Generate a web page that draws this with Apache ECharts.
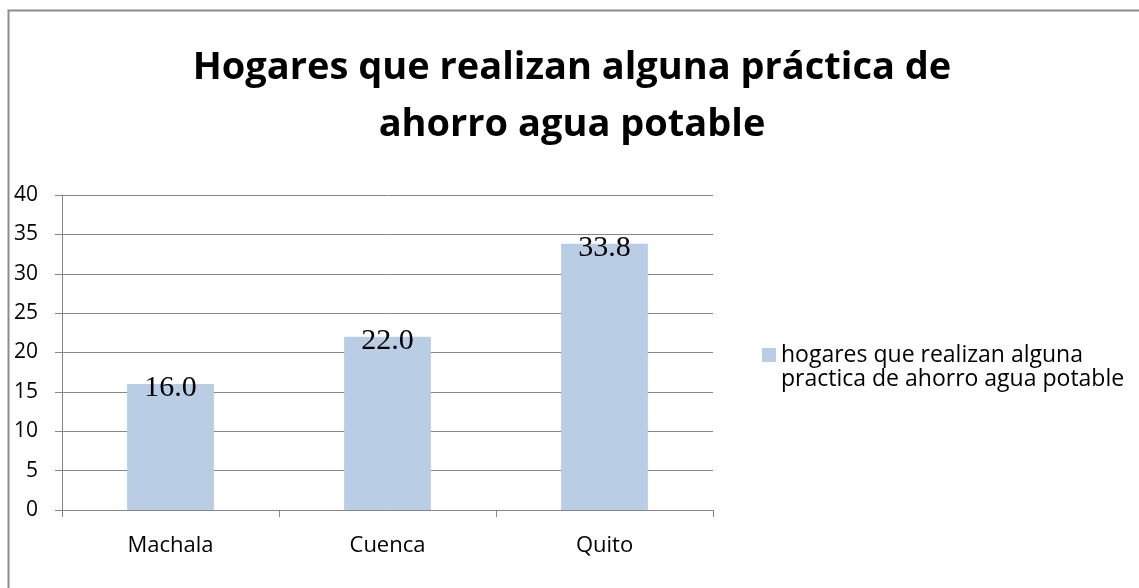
<!DOCTYPE html>
<html>
<head>
	<meta charset="utf-8">
	<title>Hogares</title>
	<style>
		html, body { margin: 0; padding: 0; background: #fff; }
		#chart { width: 1139px; height: 588px; }
	</style>
</head>
<body>
	<div id="chart"></div>
<script type="text/javascript" src="https://cdn.jsdelivr.net/npm/echarts@6/dist/echarts.min.js"></script>
<script type="text/javascript">
	var ciudades = ['Machala', 'Cuenca', 'Quito'];
	var valores = [16.0, 22.0, 33.8];
	var serieNombre = 'hogares que realizan alguna\npractica de ahorro agua potable';
	var titulo = 'Hogares que realizan alguna práctica de\nahorro agua potable';

	var myChart = echarts.init(document.getElementById('chart'));
	var option = {
		backgroundColor: '#fff',
		animation: false,
		graphic: [{
			type: 'rect',
			shape: { x: 8.5, y: 10.5, width: 1200, height: 700 },
			style: { fill: 'none', stroke: '#8c8c8c', lineWidth: 2 }
		}],
		title: {
			text: titulo,
			left: 572,
			textAlign: 'center',
			top: 40,
			padding: 0,
			textStyle: {
				fontFamily: 'Open Sans',
				fontWeight: 'bold',
				fontSize: 38,
				lineHeight: 57,
				color: '#000'
			}
		},
		legend: {
			left: 762,
			top: 319,
			padding: 0,
			orient: 'vertical',
			itemWidth: 14,
			itemHeight: 14,
			itemGap: 6,
			icon: 'rect',
			data: [serieNombre],
			// blank first line so the square sits beside the first text line
			formatter: function (n) { return '\n' + n; },
			textStyle: {
				fontFamily: 'Open Sans',
				fontSize: 23,
				lineHeight: 24,
				color: '#000'
			}
		},
		grid: {
			left: 62,
			right: 426,
			top: 195,
			bottom: 78,
			containLabel: false
		},
		xAxis: {
			type: 'category',
			data: ciudades,
			axisLine: { lineStyle: { color: '#868686', width: 1 } },
			axisTick: { show: true, length: 7, lineStyle: { color: '#868686' } },
			axisLabel: {
				fontFamily: 'Open Sans',
				fontSize: 22,
				color: '#000',
				margin: 25
			}
		},
		yAxis: {
			type: 'value',
			min: 0,
			max: 40,
			interval: 5,
			axisLine: { show: true, lineStyle: { color: '#868686' } },
			axisTick: { show: true, length: 7, lineStyle: { color: '#868686' } },
			splitLine: { lineStyle: { color: '#868686', width: 1 } },
			axisLabel: {
				fontFamily: 'Open Sans',
				fontSize: 21,
				color: '#000',
				margin: 24
			}
		},
		series: [{
			name: serieNombre,
			type: 'bar',
			data: valores,
			barWidth: '40%',
			itemStyle: { color: '#b9cde5' },
			label: {
				show: true,
				position: 'insideTop',
				distance: -11,
				lineHeight: 30,
				formatter: function (p) { return p.value.toFixed(1); },
				fontFamily: 'Liberation Serif',
				fontSize: 30,
				color: '#000'
			}
		}]
	};
	myChart.setOption(option);
</script>
</body>
</html>
